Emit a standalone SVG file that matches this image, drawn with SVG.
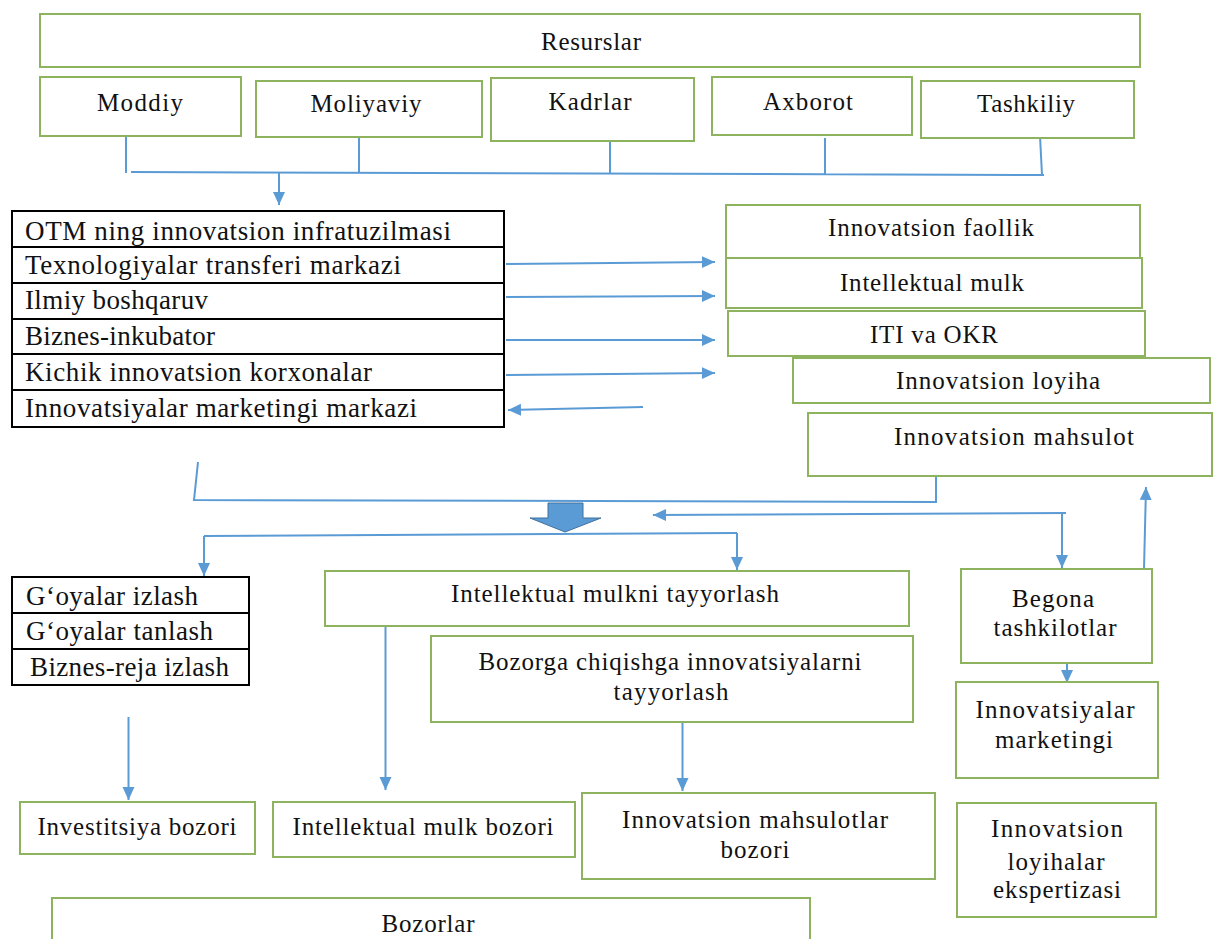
<svg xmlns="http://www.w3.org/2000/svg" width="1216" height="939" viewBox="0 0 1216 939">
<style>
.b{fill:#fff;stroke:#8db35e;stroke-width:2}
.t{fill:#fff;stroke:#000;stroke-width:2}
.l{font-size:25px;fill:#111;text-anchor:middle}
.tt{font-size:27px;fill:#111}
.c{fill:none;stroke:#5b9bd5;stroke-width:2}
.ca{fill:none;stroke:#5b9bd5;stroke-width:2;marker-end:url(#ah)}
</style>
<defs>
<marker id="ah" markerUnits="userSpaceOnUse" markerWidth="14" markerHeight="14" viewBox="0 0 14 14" refX="13" refY="7" orient="auto">
<path d="M0,1 L13,7 L0,13 Z" fill="#5b9bd5"/>
</marker>
</defs>
<rect width="1216" height="939" fill="#fff"/>

<g id="connectors">
<path class="c" d="M126,136 V173 M359,137 V172 M610,141 V173 M825,138 V174 M1040,136 L1042,175 M131,172 L1044,175"/>
<path class="ca" d="M279,173 V205"/>
<path class="ca" d="M506,264 L715,262"/>
<path class="ca" d="M506,297 L715,296"/>
<path class="ca" d="M506,340 L715,340"/>
<path class="ca" d="M506,375 L715,373"/>
<path class="ca" d="M643,407 L508,410"/>
<path class="c" d="M936,468 V502 L194,500 L198,462"/>
<path class="ca" d="M1066,513 L653,515"/>
<path class="ca" d="M1062,513 V568"/>
<path class="c" d="M204,536 L737,533"/>
<path class="ca" d="M204,536 V576"/>
<path class="ca" d="M737,533 V570"/>
<path class="ca" d="M1144,569 L1146,487"/>
<path class="ca" d="M1067,663 V683"/>
<path class="ca" d="M128.5,717 V800"/>
<path class="ca" d="M385.5,625 V790"/>
<path class="ca" d="M682.5,700 V791"/>
<path d="M548,503 H583 V518 H601 L565,532 L530,518 H548 Z" fill="#5b9bd5" stroke="#41719c" stroke-width="1"/>
</g>

<g font-family="Liberation Serif, DejaVu Serif, serif">
<g id="resurslar"><rect class="b" x="40" y="14" width="1100" height="53"/><text class="l" x="591" y="50" textLength="100">Resurslar</text></g>
<g id="moddiy"><rect class="b" x="40" y="77" width="201" height="59"/><text class="l" x="140" y="111" textLength="86">Moddiy</text></g>
<g id="moliyaviy"><rect class="b" x="256" y="81" width="226" height="56"/><text class="l" x="366" y="112" textLength="111">Moliyaviy</text></g>
<g id="kadrlar"><rect class="b" x="491" y="78" width="203" height="63"/><text class="l" x="590" y="110" textLength="83">Kadrlar</text></g>
<g id="axborot"><rect class="b" x="712" y="77" width="200" height="58"/><text class="l" x="808" y="110" textLength="90">Axborot</text></g>
<g id="tashkiliy"><rect class="b" x="921" y="81" width="213" height="57"/><text class="l" x="1026" y="112" textLength="98">Tashkiliy</text></g>

<g id="infra-table">
<rect class="t" x="12" y="211" width="492" height="216"/>
<path d="M12,247 H504 M12,283 H504 M12,319 H504 M12,354 H504 M12,390 H504" stroke="#000" stroke-width="2"/>
<text class="tt" x="25" y="240" textLength="426">OTM ning innovatsion infratuzilmasi</text>
<text class="tt" x="25" y="274" textLength="376">Texnologiyalar  transferi markazi</text>
<text class="tt" x="25" y="309" textLength="183">Ilmiy boshqaruv</text>
<text class="tt" x="25" y="345" textLength="190">Biznes-inkubator</text>
<text class="tt" x="25" y="381" textLength="347">Kichik innovatsion korxonalar</text>
<text class="tt" x="25" y="417" textLength="392">Innovatsiyalar marketingi markazi</text>
</g>

<g id="faollik"><rect class="b" x="726" y="205" width="414" height="53"/><text class="l" x="931" y="236" textLength="206">Innovatsion faollik</text></g>
<g id="intellektual-mulk"><rect class="b" x="726" y="258" width="416" height="50"/><text class="l" x="932" y="291" textLength="184">Intellektual mulk</text></g>
<g id="iti-okr"><rect class="b" x="728" y="311" width="417" height="45"/><text class="l" x="934" y="343" textLength="128">ITI va OKR</text></g>
<g id="loyiha"><rect class="b" x="793" y="358" width="417" height="45"/><text class="l" x="998" y="389" textLength="204">Innovatsion loyiha</text></g>
<g id="mahsulot"><rect class="b" x="808" y="413" width="404" height="63"/><text class="l" x="1014" y="445" textLength="240">Innovatsion mahsulot</text></g>

<g id="goyalar-table">
<rect class="t" x="12" y="577" width="237" height="108"/>
<path d="M12,613 H249 M12,649 H249" stroke="#000" stroke-width="2"/>
<text class="tt" x="26" y="605" textLength="172">G‘oyalar izlash</text>
<text class="tt" x="26" y="640" textLength="187">G‘oyalar tanlash</text>
<text class="tt" x="30" y="676" textLength="199">Biznes-reja izlash</text>
</g>

<g id="im-tayyorlash"><rect class="b" x="325" y="571" width="584" height="55"/><text class="l" x="615" y="602" textLength="328">Intellektual mulkni tayyorlash</text></g>
<g id="bozorga"><rect class="b" x="431" y="636" width="482" height="86"/><text class="l" x="670" y="670" textLength="383">Bozorga chiqishga innovatsiyalarni</text><text class="l" x="671" y="700" textLength="115">tayyorlash</text></g>
<g id="begona"><rect class="b" x="961" y="569" width="191" height="94"/><text class="l" x="1053" y="607" textLength="82">Begona</text><text class="l" x="1055" y="636" textLength="123">tashkilotlar</text></g>
<g id="inn-marketingi"><rect class="b" x="956" y="682" width="202" height="96"/><text class="l" x="1055" y="718" textLength="159">Innovatsiyalar</text><text class="l" x="1054" y="748" textLength="118">marketingi</text></g>

<g id="investitsiya"><rect class="b" x="20" y="802" width="235" height="52"/><text class="l" x="137" y="835" textLength="199">Investitsiya bozori</text></g>
<g id="im-bozori"><rect class="b" x="273" y="802" width="302" height="55"/><text class="l" x="423" y="835" textLength="261">Intellektual mulk bozori</text></g>
<g id="mahsulotlar-bozori"><rect class="b" x="582" y="793" width="353" height="86"/><text class="l" x="755" y="828" textLength="266">Innovatsion mahsulotlar</text><text class="l" x="755" y="858" textLength="69">bozori</text></g>
<g id="ekspertiza"><rect class="b" x="957" y="803" width="199" height="114"/><text class="l" x="1057" y="837" textLength="132">Innovatsion</text><text class="l" x="1056" y="870" textLength="97">loyihalar</text><text class="l" x="1057" y="898" textLength="128">ekspertizasi</text></g>
<g id="bozorlar"><rect class="b" x="52" y="898" width="758" height="60"/><text class="l" x="428" y="932" textLength="93">Bozorlar</text></g>
</g>
</svg>
